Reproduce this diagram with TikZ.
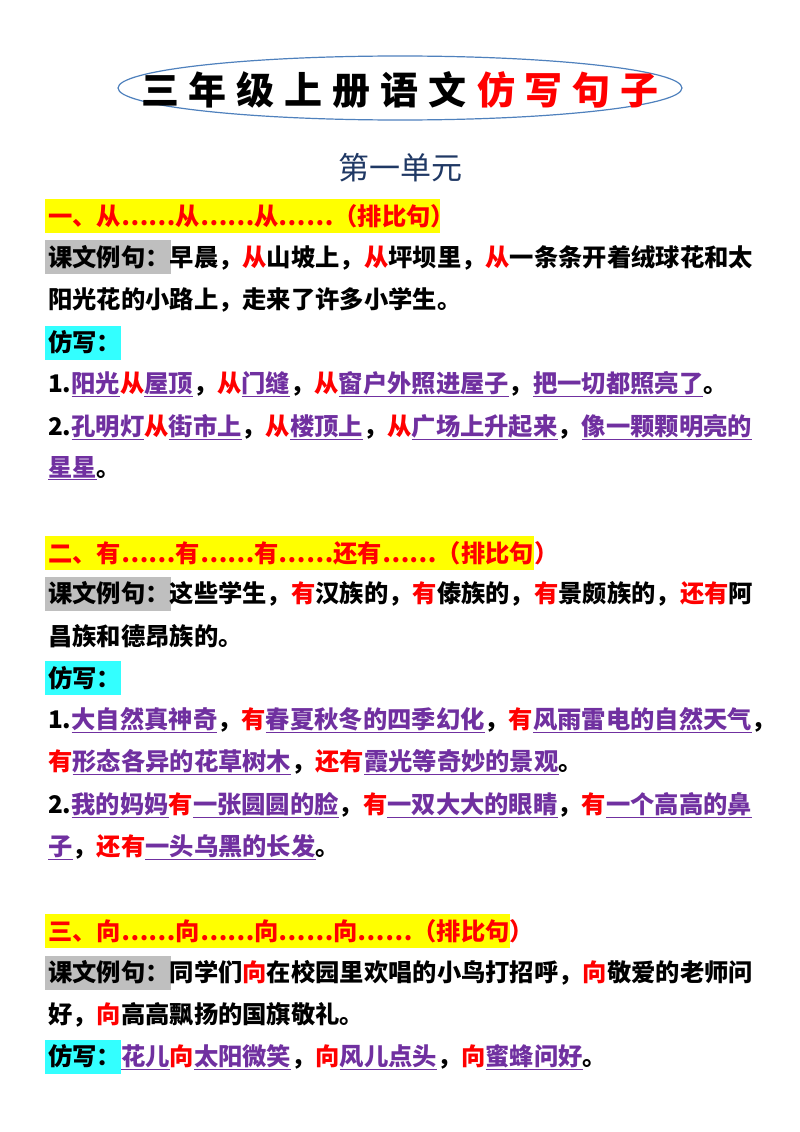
\documentclass[tikz,border=0pt]{standalone}
\usepackage{fontspec}
\setmainfont{Noto Sans CJK SC}
\newfontfamily\cjk{Noto Sans CJK SC}
\definecolor{rd}{HTML}{FF0000}
\definecolor{pu}{HTML}{7030A0}
\definecolor{hy}{HTML}{FFFF00}
\definecolor{hg}{HTML}{BFBFBF}
\definecolor{hc}{HTML}{33FFFF}
\definecolor{tb}{HTML}{1F3864}
\definecolor{eb}{HTML}{4F81BD}
\newcommand\R[1]{\textcolor{rd}{#1}}
\newcommand\U[1]{\textcolor{pu}{\underline{#1}}}
\begin{document}
\begin{tikzpicture}[x=1pt,y=-1pt,
  ln/.style={anchor=west,inner sep=0pt,font=\cjk\bfseries\fontsize{24.3}{25}\selectfont},
  hl/.style={inner sep=0pt}]
\useasboundingbox[fill=white] (0,0) rectangle (800,1132);
% title
\draw[eb,line width=1.2pt] (400,88) ellipse [x radius=282,y radius=32];
\node[inner sep=0pt,font=\cjk\bfseries\fontsize{38}{40}\selectfont] (title) at (400,90)
 {三\hspace{10pt}年\hspace{10pt}级\hspace{10pt}上\hspace{10pt}册\hspace{10pt}语\hspace{10pt}文\hspace{10pt}\R{仿\hspace{10pt}写\hspace{10pt}句\hspace{10pt}子}};
\node[inner sep=0pt,text=tb,font=\cjk\fontsize{31}{32}\selectfont] (unit) at (400,168) {第一单元};
% highlights
\fill[hy] (45,199) rectangle (440,233);
\fill[hg] (45,240) rectangle (171,274);
\fill[hc] (45,326) rectangle (121,360);
\fill[hy] (45,536) rectangle (534,570);
\fill[hg] (45,577) rectangle (171,611);
\fill[hc] (45,661) rectangle (121,695);
\fill[hy] (45,914) rectangle (510,948);
\fill[hg] (45,956) rectangle (171,990);
\fill[hc] (45,1040) rectangle (121,1074);
% section 1
\node[ln] (h1) at (48,216) {\R{一、从……从……从……（排比句）}};
\node[ln] (e1a) at (48,258) {课文例句：早晨，\R{从}山坡上，\R{从}坪坝里，\R{从}一条条开着绒球花和太};
\node[ln] (e1b) at (48,300) {阳光花的小路上，走来了许多小学生。};
\node[ln] (f1) at (48,342) {仿写：};
\node[ln] (s1a) at (48,384) {1.\U{阳光}\R{从}\U{屋顶}，\R{从}\U{门缝}，\R{从}\U{窗户外照进屋子}，\U{把一切都照亮了}。};
\node[ln] (s1b) at (48,427) {2.\U{孔明灯}\R{从}\U{街市上}，\R{从}\U{楼顶上}，\R{从}\U{广场上升起来}，\U{像一颗颗明亮的}};
\node[ln] (s1c) at (48,468) {\U{星星}。};
% section 2
\node[ln] (h2) at (48,553) {\R{二、有……有……有……还有……（排比句）}};
\node[ln] (e2a) at (48,594) {课文例句：这些学生，\R{有}汉族的，\R{有}傣族的，\R{有}景颇族的，\R{还有}阿};
\node[ln] (e2b) at (48,636) {昌族和德昂族的。};
\node[ln] (f2) at (48,678) {仿写：};
\node[ln] (s2a) at (48,720) {1.\U{大自然真神奇}，\R{有}\U{春夏秋冬的四季幻化}，\R{有}\U{风雨雷电的自然天气}，};
\node[ln] (s2b) at (48,762) {\R{有}\U{形态各异的花草树木}，\R{还有}\U{霞光等奇妙的景观}。};
\node[ln] (s2c) at (48,805) {2.\U{我的妈妈}\R{有}\U{一张圆圆的脸}，\R{有}\U{一双大大的眼睛}，\R{有}\U{一个高高的鼻}};
\node[ln] (s2d) at (48,847) {\U{子}，\R{还有}\U{一头乌黑的长发}。};
% section 3
\node[ln] (h3) at (48,931) {\R{三、向……向……向……向……（排比句）}};
\node[ln] (e3a) at (48,973) {课文例句：同学们\R{向}在校园里欢唱的小鸟打招呼，\R{向}敬爱的老师问};
\node[ln] (e3b) at (48,1015) {好，\R{向}高高飘扬的国旗敬礼。};
\node[ln] (f3) at (48,1057) {仿写：\U{花儿}\R{向}\U{太阳微笑}，\R{向}\U{风儿点头}，\R{向}\U{蜜蜂问好}。};
\end{tikzpicture}
\end{document}
